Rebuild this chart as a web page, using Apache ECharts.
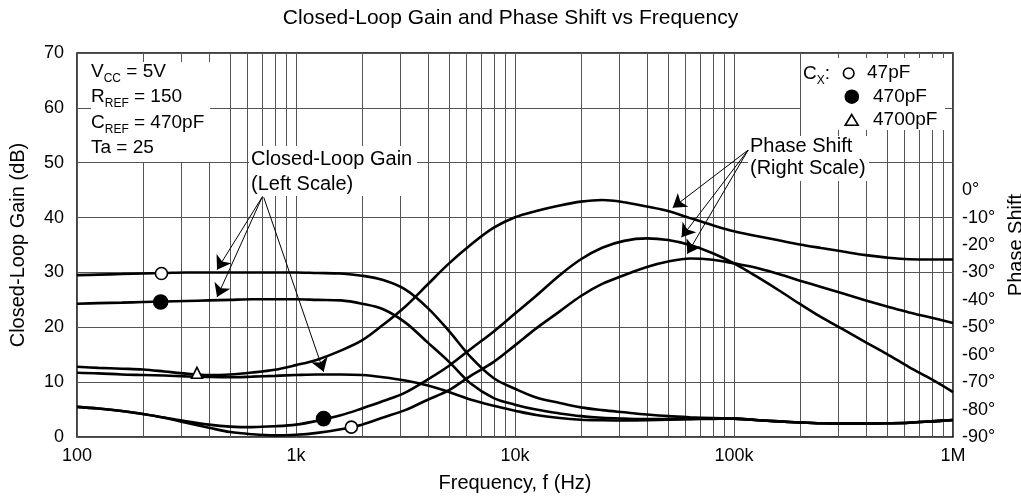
<!DOCTYPE html>
<html>
<head>
<meta charset="utf-8">
<title>Closed-Loop Gain and Phase Shift vs Frequency</title>
<script src="https://cdn.jsdelivr.net/npm/echarts@6/dist/echarts.min.js"></script>
<style>
  html, body { margin: 0; padding: 0; background: #fff; }
  #chart { width: 1021px; height: 497px; }
</style>
</head>
<body>
<div id="chart"></div>
<script>
(function () {
  'use strict';

  var FONT = "'Liberation Sans', Arial, sans-serif";
  var GRID_COLOR = '#555';

  // frequency axis: decade labels and the 2..9 minor grid lines
  var decadeLabels = { 2: '100', 3: '1k', 4: '10k', 5: '100k', 6: '1M' };
  var minorFreqs = [
    200, 300, 400, 500, 600, 700, 800, 900,
    2000, 3000, 4000, 5000, 6000, 7000, 8000, 9000,
    20000, 30000, 40000, 50000, 60000, 70000, 80000, 90000,
    200000, 300000, 400000, 500000, 600000, 700000, 800000, 900000
  ];

  // sample frequencies (Hz), 10 per decade, shared by every curve
  var freqs = [
    100, 125, 160, 200, 250, 315, 400, 500, 630, 800,
    1000, 1250, 1600, 2000, 2500, 3150, 4000, 5000, 6300, 8000,
    10000, 12500, 16000, 20000, 25000, 31500, 40000, 50000, 63000, 80000,
    100000, 125000, 160000, 200000, 250000, 315000, 400000, 500000, 630000, 800000,
    1000000
  ];

  // closed-loop gain, dB (left scale)
  var gain47 = [
    29.5, 29.6, 29.7, 29.8, 29.9, 30.0, 30.0, 30.0, 30.0, 30.0,
    30.0, 29.9, 29.8, 29.4, 28.6, 26.9, 23.5, 19.3, 14.5, 10.7,
    8.8, 7.2, 6.2, 5.4, 4.9, 4.5, 4.1, 3.8, 3.6, 3.45,
    3.35, 3.1, 2.85, 2.65, 2.5, 2.45, 2.45, 2.5, 2.6, 2.85,
    3.1
  ];
  var gain470 = [
    24.3, 24.4, 24.5, 24.6, 24.7, 24.8, 24.9, 25.0, 25.1, 25.1,
    25.1, 25.0, 24.9, 24.3, 23.3, 20.9, 17.2, 13.7, 9.7, 7.1,
    5.9, 5.0, 4.3, 3.8, 3.5, 3.35, 3.25, 3.25, 3.3, 3.35,
    3.35, 3.1, 2.85, 2.65, 2.5, 2.45, 2.45, 2.5, 2.6, 2.85,
    3.1
  ];
  var gain4700 = [
    11.7, 11.6, 11.4, 11.3, 11.2, 11.05, 10.95, 10.9, 11.0, 11.15,
    11.3, 11.4, 11.4, 11.3, 10.9, 10.3, 9.4, 8.2, 6.8, 5.7,
    4.8, 4.0, 3.45, 3.15, 3.05, 3.0, 3.05, 3.15, 3.25, 3.3,
    3.35, 3.1, 2.85, 2.65, 2.5, 2.45, 2.45, 2.5, 2.6, 2.85,
    3.1
  ];

  // phase shift, degrees (right scale)
  var phase47 = [
    -79.0, -79.6, -80.5, -81.6, -83.0, -84.8, -86.6, -88.2, -89.0, -89.4,
    -89.2, -88.5, -87.2, -85.5, -82.9, -80.2, -76.4, -72.9, -67.6, -62.6,
    -56.6, -50.4, -44.2, -38.6, -34.2, -31.0, -28.0, -26.0, -24.9, -25.4,
    -26.7, -28.2, -30.6, -33.0, -35.3, -37.7, -40.2, -42.4, -44.6, -46.5,
    -48.4
  ];
  var phase470 = [
    -79.0, -79.6, -80.5, -81.6, -82.9, -84.3, -85.5, -86.2, -86.4, -86.1,
    -85.5, -84.1, -82.1, -79.6, -76.9, -73.8, -69.0, -64.0, -57.8, -51.5,
    -45.0, -38.5, -31.0, -25.2, -21.0, -18.5, -17.6, -18.2, -20.0, -23.0,
    -26.7, -31.2, -36.5, -41.5, -46.3, -50.8, -55.5, -59.8, -64.5, -69.0,
    -73.6
  ];
  var phase4700 = [
    -64.4, -64.8, -65.1, -65.4, -66.1, -66.9, -67.4, -67.2, -66.5, -65.5,
    -63.8, -61.8, -58.5, -54.8, -49.1, -42.5, -34.3, -26.7, -19.8, -13.7,
    -9.9, -7.6, -5.6, -4.2, -3.6, -4.4, -6.0, -7.6, -10.2, -12.8,
    -15.0, -16.6, -18.3, -19.8, -21.1, -22.4, -23.7, -24.6, -25.2, -25.3,
    -25.3
  ];

  // curve markers [freq, value]
  var openGainMark = [[243, 29.8]];
  var openPhaseMark = [[1790, -86.4]];
  var dotGainMark = [[241, 24.6]];
  var dotPhaseMark = [[1337, -83.3]];
  var triGainMark = [[353, 11.7]];

  // annotation arrows, [freq, dB] on the left scale
  var gainArrows = [
    [[700, 43.7], [436, 30.5]],
    [[700, 43.7], [436, 25.5]],
    [[712, 43.7], [1337, 11.9]]
  ];
  var phaseArrows = [
    [[116000, 52.3], [52500, 41.8]],
    [[116000, 52.3], [57600, 36.4]],
    [[116000, 52.3], [61200, 33.4]]
  ];

  var chart = echarts.init(document.getElementById('chart'), null, { renderer: 'canvas' });

  function pairs(values) {
    return freqs.map(function (f, i) { return [f, values[i]]; });
  }

  function curve(name, values, axis) {
    return {
      name: name,
      type: 'line',
      yAxisIndex: axis,
      data: pairs(values),
      smooth: 0.35,
      showSymbol: false,
      silent: true,
      z: 3,
      lineStyle: { color: '#000', width: 2.6 }
    };
  }

  function marks(data, axis, symbol, size, fill) {
    return {
      type: 'scatter',
      yAxisIndex: axis,
      data: data,
      symbol: symbol,
      symbolSize: size,
      silent: true,
      z: 4,
      itemStyle: { color: fill, borderColor: '#000', borderWidth: 1.6, opacity: 1 }
    };
  }

  function arrowLines(list) {
    return list.map(function (a) {
      return [{ coord: a[0] }, { coord: a[1] }];
    });
  }

  var rich = {
    m: { fontSize: 19, fontFamily: FONT, fill: '#000', lineHeight: 25.5 },
    s: { fontSize: 12, fontFamily: FONT, fill: '#000', lineHeight: 16, verticalAlign: 'bottom' }
  };

  function textEl(x, y, text, size, lineHeight) {
    return {
      type: 'text',
      x: x,
      y: y,
      z: 6,
      silent: true,
      style: {
        text: text,
        fontSize: size,
        fontFamily: FONT,
        fill: '#000',
        lineHeight: lineHeight,
        verticalAlign: 'top'
      }
    };
  }

  function whiteBox(x, y, w, h) {
    return { type: 'rect', z: 5, silent: true, shape: { x: x, y: y, width: w, height: h }, style: { fill: '#fff' } };
  }

  chart.setOption({
    animation: false,
    backgroundColor: '#fff',
    textStyle: { fontFamily: FONT },
    title: {
      text: 'Closed-Loop Gain and Phase Shift vs Frequency',
      left: 'center',
      top: 3,
      textStyle: { fontSize: 21, fontWeight: 'normal', color: '#000', fontFamily: FONT }
    },
    grid: {
      left: 77,
      right: 68,
      top: 53,
      bottom: 60,
      show: true,
      borderColor: '#000',
      borderWidth: 1.5,
      backgroundColor: 'transparent',
      outerBoundsMode: 'none'
    },
    xAxis: {
      type: 'log',
      logBase: 10,
      min: 100,
      max: 1000000,
      name: 'Frequency, f (Hz)',
      nameLocation: 'middle',
      nameGap: 36,
      nameTextStyle: { fontSize: 20, color: '#000', fontFamily: FONT },
      axisLine: { show: false },
      axisTick: { show: false },
      axisLabel: {
        fontSize: 18,
        color: '#000',
        margin: 10,
        formatter: function (v) {
          return decadeLabels[Math.round(Math.log10(v))] || '';
        }
      },
      splitLine: { show: true, lineStyle: { color: GRID_COLOR, width: 1 } }
    },
    yAxis: [{
      type: 'value',
      min: 0,
      max: 70,
      interval: 10,
      name: 'Closed-Loop Gain (dB)',
      nameLocation: 'middle',
      nameGap: 49,
      nameTextStyle: { fontSize: 20, color: '#000', fontFamily: FONT },
      axisLine: { show: false },
      axisTick: { show: false },
      axisLabel: { fontSize: 18, color: '#000', margin: 13 },
      splitLine: { show: true, lineStyle: { color: GRID_COLOR, width: 1 } }
    }, {
      type: 'value',
      position: 'right',
      min: -90,
      max: 50,
      interval: 10,
      name: 'Phase Shift',
      nameLocation: 'middle',
      nameRotate: 90,
      nameGap: 49,
      nameTextStyle: { fontSize: 20, color: '#000', fontFamily: FONT },
      axisLine: { show: false },
      axisTick: { show: false },
      axisLabel: {
        fontSize: 18,
        color: '#000',
        margin: 9,
        formatter: function (v) { return v > 0 ? '' : v + '°'; }
      },
      splitLine: { show: false }
    }],
    series: [
      {
        // minor vertical grid lines at 2..9 of each decade
        type: 'line',
        data: [],
        silent: true,
        markLine: {
          silent: true,
          z: 1,
          symbol: ['none', 'none'],
          label: { show: false },
          lineStyle: { color: GRID_COLOR, width: 1, type: 'solid' },
          emphasis: { disabled: true },
          data: minorFreqs.map(function (f) { return { xAxis: f }; })
        }
      },
      curve('Gain 47pF', gain47, 0),
      curve('Gain 470pF', gain470, 0),
      curve('Gain 4700pF', gain4700, 0),
      curve('Phase 47pF', phase47, 1),
      curve('Phase 470pF', phase470, 1),
      curve('Phase 4700pF', phase4700, 1),
      marks(openGainMark, 0, 'circle', 12, '#fff'),
      marks(openPhaseMark, 1, 'circle', 12, '#fff'),
      marks(dotGainMark, 0, 'circle', 14, '#000'),
      marks(dotPhaseMark, 1, 'circle', 14, '#000'),
      marks(triGainMark, 0, 'triangle', 11, '#fff'),
      {
        // annotation arrows
        type: 'line',
        data: [],
        silent: true,
        markLine: {
          silent: true,
          z: 7,
          symbol: ['none', 'arrow'],
          symbolSize: 13,
          label: { show: false },
          lineStyle: { color: '#000', width: 1, type: 'solid' },
          emphasis: { disabled: true },
          data: arrowLines(gainArrows).concat(arrowLines(phaseArrows))
        }
      }
    ],
    graphic: [
      // test conditions
      whiteBox(91, 62, 119, 100),
      {
        type: 'text', x: 91, y: 59, z: 6, silent: true,
        style: {
          text: [
            '{m|V}{s|CC}{m| = 5V}',
            '{m|R}{s|REF}{m| = 150}',
            '{m|C}{s|REF}{m| = 470pF}',
            '{m|Ta = 25}'
          ].join('\n'),
          rich: rich,
          verticalAlign: 'top'
        }
      },
      // capacitor legend
      whiteBox(801, 58, 144, 72),
      {
        type: 'text', x: 803, y: 61, z: 6, silent: true,
        style: { text: '{m|C}{s|X}{m|:}', rich: rich, verticalAlign: 'top' }
      },
      { type: 'circle', z: 6, silent: true, shape: { cx: 848.7, cy: 73.3, r: 5.3 }, style: { fill: '#fff', stroke: '#000', lineWidth: 1.6 } },
      { type: 'circle', z: 6, silent: true, shape: { cx: 851.8, cy: 96.7, r: 7.3 }, style: { fill: '#000' } },
      { type: 'polygon', z: 6, silent: true, shape: { points: [[851.7, 114.5], [845.2, 125.3], [858.2, 125.3]] }, style: { fill: '#fff', stroke: '#000', lineWidth: 1.6 } },
      textEl(867, 63, '47pF', 19, 20),
      textEl(873, 87, '470pF', 19, 20),
      textEl(873, 110, '4700pF', 19, 20),
      // annotation labels
      whiteBox(249, 146, 168, 50),
      textEl(251, 147, 'Closed-Loop Gain\n(Left Scale)', 20, 25),
      whiteBox(748, 136, 121, 45),
      textEl(750, 135, 'Phase Shift\n(Right Scale)', 20, 22)
    ]
  });
})();
</script>
</body>
</html>
